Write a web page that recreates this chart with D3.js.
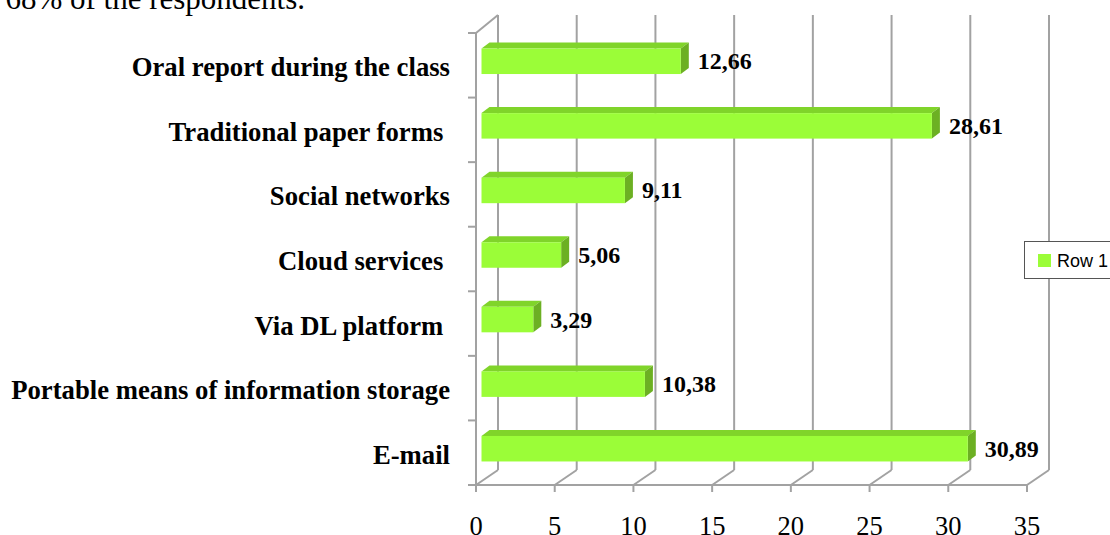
<!DOCTYPE html>
<html>
<head>
<meta charset="utf-8">
<script src="https://cdn.jsdelivr.net/npm/d3@7"></script>
<style>
  html, body { margin: 0; padding: 0; background: #fff; }
  svg { display: block; }
  text { white-space: pre; }
</style>
</head>
<body>
<svg id="chart" width="1110" height="535"></svg>
<script>
const categories = [
  "Oral report during the class",
  "Traditional paper forms ",
  "Social networks",
  "Cloud services ",
  "Via DL platform ",
  "Portable means of information storage",
  "E-mail"
];
const values = [12.66, 28.61, 9.11, 5.06, 3.29, 10.38, 30.89];
const tickValues = [0, 5, 10, 15, 20, 25, 30, 35];
const seriesName = "Row 1";
const introText = "68% of the respondents.";

const svg = d3.select("#chart");

// layout
const plot = { left: 476, right: 1027, top: 33, bottom: 485 };
const depth = { dx: 22, dy: -15, topDy: -18 };
const barOffset = { dx: 5.5, dy: -4 };
const barDepth = { dx: 8, dy: -6 };
const barH = 25.5;

const x = d3.scaleLinear().domain([0, 35]).range([plot.left, plot.right]);
const y = d3.scaleBand().domain(categories).range([plot.top, plot.bottom]);

const fmt = v => d3.format(".2f")(v).replace(".", ",");

const gridColor = "#a2a2a2";
const serif = "'Liberation Serif', 'Times New Roman', serif";

// intro text (cut at top)
svg.append("text")
  .attr("x", 305).attr("y", 8.5)
  .attr("text-anchor", "end")
  .attr("font-family", serif)
  .attr("font-size", 31)
  .attr("fill", "#000")
  .text(introText);

const grid = svg.append("g");

// back gridlines
grid.selectAll("line.back").data(tickValues).enter().append("line")
  .attr("x1", d => x(d) + depth.dx).attr("x2", d => x(d) + depth.dx)
  .attr("y1", plot.bottom + depth.dy).attr("y2", plot.top + depth.topDy)
  .attr("stroke", gridColor).attr("stroke-width", 2);

// floor slants
grid.selectAll("line.floor").data(tickValues).enter().append("line")
  .attr("x1", d => x(d)).attr("x2", d => x(d) + depth.dx)
  .attr("y1", plot.bottom).attr("y2", plot.bottom + depth.dy)
  .attr("stroke", gridColor).attr("stroke-width", 2);

// front baseline
grid.append("line")
  .attr("x1", plot.left - 8).attr("x2", plot.right)
  .attr("y1", plot.bottom).attr("y2", plot.bottom)
  .attr("stroke", gridColor).attr("stroke-width", 2);

// tick marks below
grid.selectAll("line.tick").data(tickValues).enter().append("line")
  .attr("x1", d => x(d)).attr("x2", d => x(d))
  .attr("y1", plot.bottom).attr("y2", plot.bottom + 7)
  .attr("stroke", gridColor).attr("stroke-width", 2);

// left axis (front)
grid.append("line")
  .attr("x1", plot.left).attr("x2", plot.left)
  .attr("y1", plot.top).attr("y2", plot.bottom)
  .attr("stroke", gridColor).attr("stroke-width", 2);

// top slant of left wall
grid.append("line")
  .attr("x1", plot.left).attr("x2", plot.left + depth.dx)
  .attr("y1", plot.top).attr("y2", plot.top + depth.topDy)
  .attr("stroke", gridColor).attr("stroke-width", 2);

// left category ticks
const boundaries = categories.map(c => y(c)).concat([plot.bottom]);
grid.selectAll("line.ctick").data(boundaries).enter().append("line")
  .attr("x1", plot.left - 8).attr("x2", plot.left)
  .attr("y1", d => d).attr("y2", d => d)
  .attr("stroke", gridColor).attr("stroke-width", 2);

// bars
const bars = svg.append("g").selectAll("g.bar")
  .data(categories.map((c, i) => ({ c, v: values[i] })))
  .enter().append("g");

function fy(d) { return y(d.c) + y.bandwidth() / 2 + barOffset.dy - barH / 2; }
function fx0() { return x(0) + barOffset.dx; }
function fx1(d) { return x(d.v) + barOffset.dx; }

// top face
bars.append("path")
  .attr("d", d => {
    const x0 = fx0(), x1 = fx1(d), t = fy(d);
    return `M${x0},${t} L${x0 + barDepth.dx},${t + barDepth.dy} L${x1 + barDepth.dx},${t + barDepth.dy} L${x1},${t} Z`;
  })
  .attr("fill", "#80d42a");

// side face
bars.append("path")
  .attr("d", d => {
    const x1 = fx1(d), t = fy(d);
    return `M${x1},${t} L${x1 + barDepth.dx},${t + barDepth.dy} L${x1 + barDepth.dx},${t + barH + barDepth.dy} L${x1},${t + barH} Z`;
  })
  .attr("fill", "#6cb023");

// front face
bars.append("rect")
  .attr("x", fx0)
  .attr("y", fy)
  .attr("width", d => fx1(d) - fx0())
  .attr("height", barH)
  .attr("fill", "#9bfd38");

// value labels
bars.append("text")
  .attr("x", d => fx1(d) + 17)
  .attr("y", d => fy(d) + barH / 2 + 8)
  .attr("font-family", serif)
  .attr("font-weight", "bold")
  .attr("font-size", 24)
  .attr("fill", "#000")
  .text(d => fmt(d.v));

// category labels
svg.append("g").selectAll("text").data(categories).enter().append("text")
  .attr("x", 450)
  .attr("y", d => y(d) + y.bandwidth() / 2 + 11)
  .attr("text-anchor", "end")
  .attr("font-family", serif)
  .attr("font-weight", "bold")
  .attr("font-size", 26.7)
  .attr("fill", "#000")
  .text(d => d);

// x tick labels
svg.append("g").selectAll("text").data(tickValues).enter().append("text")
  .attr("x", d => x(d))
  .attr("y", 535)
  .attr("text-anchor", "middle")
  .attr("font-family", serif)
  .attr("font-size", 26.5)
  .attr("fill", "#000")
  .text(d => d);

// legend
const lg = svg.append("g");
lg.append("rect")
  .attr("x", 1024.5).attr("y", 241.5)
  .attr("width", 120).attr("height", 37)
  .attr("fill", "#fff").attr("stroke", "#555").attr("stroke-width", 1);
lg.append("rect")
  .attr("x", 1038).attr("y", 254)
  .attr("width", 13).attr("height", 13)
  .attr("fill", "#9bfd38");
lg.append("text")
  .attr("x", 1057).attr("y", 267)
  .attr("font-family", "'Liberation Sans', Arial, sans-serif")
  .attr("font-size", 18)
  .attr("fill", "#000")
  .text(seriesName);
</script>
</body>
</html>
